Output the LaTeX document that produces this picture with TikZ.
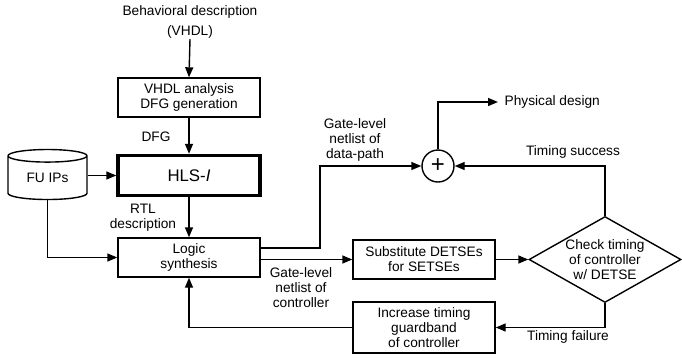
\documentclass[tikz,border=0pt]{standalone}
\usepackage{fontspec}
\setmainfont{Liberation Sans}
\usetikzlibrary{arrows.meta,shapes.geometric,calc}
\begin{document}
\begin{tikzpicture}[x=0.5pt,y=-0.5pt,
  font=\fontsize{6.85}{7.5}\selectfont,
  line width=0.7pt,
  >={Triangle[length=5pt,width=4pt]},
  box/.style={draw,rectangle,minimum width=71pt,inner sep=0pt,align=center},
  lbl/.style={align=center,inner sep=0pt},
  conn/.style={->}]
\useasboundingbox (0,0) rectangle (682,360);
% nodes
\node[lbl,font=\fontsize{6.85}{10}\selectfont] (behav) at (190,22) {Behavioral description\\(VHDL)};
\node[box,minimum height=19.5pt] (vhdl) at (189,97.5) {VHDL analysis\\DFG generation};
\node[box,minimum height=20pt,line width=1.7pt,font=\fontsize{8.4}{9}\selectfont] (hls) at (189,175.5) {HLS-\textit{I}};
\node[box,minimum height=19.5pt] (logic) at (189,257.5) {Logic\\synthesis};
\node[box,minimum height=19.5pt] (subst) at (424,259.5) {Substitute DETSEs\\for SETSEs};
\node[box,minimum height=25.5pt] (incr) at (424,327.5) {Increase timing\\guardband\\of controller};
\node[draw,diamond,aspect=1.77,inner sep=0pt,minimum width=76pt,minimum height=43pt,align=center] (chk) at (605,259.5) {Check timing\\of controller\\w/ DETSE};
\node[draw,circle,minimum size=16pt,inner sep=0pt,font=\fontsize{12}{12}\selectfont] (sum) at (438,166) {+};
\node[draw,cylinder,shape border rotate=90,aspect=0.3,minimum width=39.5pt,minimum height=25pt,inner sep=0pt] (fu) at (47.5,178) {FU IPs};
\node[lbl,anchor=west] (phys) at (504,102) {Physical design};
% labels
\node[lbl] (ldfg) at (156,137) {DFG};
\node[lbl] (lrtl) at (143,217.5) {RTL\\description};
\node[lbl] (ldp) at (355,140) {Gate-level\\netlist of\\data-path};
\node[lbl] (lctl) at (301,287.5) {Gate-level\\netlist of\\controller};
\node[lbl] (lsucc) at (573,152) {Timing success};
\node[lbl] (lfail) at (568,337) {Timing failure};
\coordinate (dpbend) at (320,166);
\coordinate (fubend) at (47.5,257.5);
% connectors
\draw[conn] (behav.south) -- (vhdl.north);
\draw[conn] (vhdl.south) -- (hls.north);
\draw[conn] (hls.south) -- (logic.north);
\draw[conn] (fu.east |- hls.west) -- (hls.west);
\draw[conn] (fu.south) -- (fubend) -- (logic.west);
\draw[conn] ([yshift=4.75pt]logic.east) -| (dpbend) -- (sum.west);
\draw[conn] (sum.north) |- ([xshift=-3pt]phys.west);
\draw[conn] (chk.north) |- (sum.east);
\draw[conn] (logic.east |- subst.west) -- (subst.west);
\draw[conn] (subst.east) -- (chk.west);
\draw[conn] (chk.south) |- (incr.east);
\draw[conn] (incr.west) -| (logic.south);
\end{tikzpicture}
\end{document}
